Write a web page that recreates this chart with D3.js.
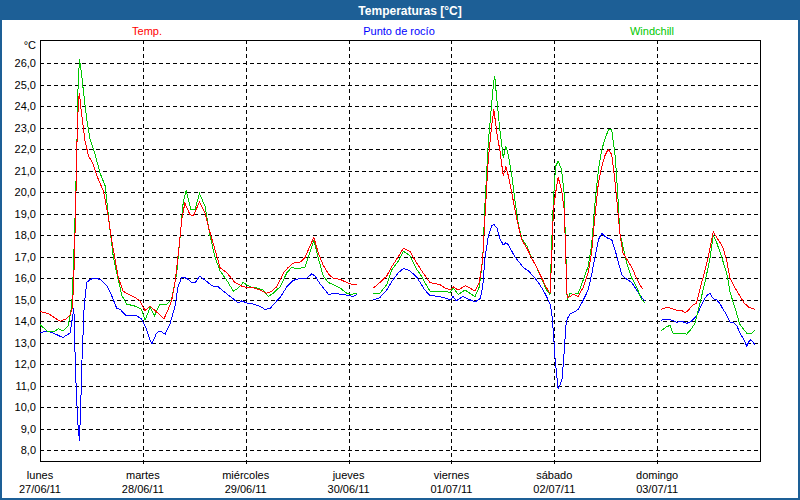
<!DOCTYPE html>
<html>
<head>
<meta charset="utf-8">
<script src="https://cdn.jsdelivr.net/npm/d3@7/dist/d3.min.js"></script>
<style>
  html, body { margin: 0; padding: 0; background: #fff; }
  svg { display: block; font-family: "Liberation Sans", Arial, sans-serif; }
</style>
</head>
<body>
<svg id="chart"></svg>
<script>
// hours since lunes 27/06/11 00:00, value in °C ; null = no data
const temp = [[0,14.45],[2,14.35],[3.5,14.15],[4.7,14.0],[6,14.1],[7,14.3],[7.5,14.6],[7.8,15.5],[8.1,17.5],[8.4,20.0],[8.7,23.0],[9.0,24.3],[9.2,24.6],[9.6,23.8],[10.5,22.4],[11.3,21.7],[12.4,21.3],[13.6,20.6],[14.8,20.05],[15.9,18.9],[16.7,17.8],[17.5,16.9],[18.3,16.0],[19.4,15.4],[20.6,15.25],[22.2,15.1],[23.3,14.95],[24.5,14.5],[25.7,14.7],[26.8,14.5],[28,14.3],[28.9,14.1],[29.9,14.55],[30.7,14.95],[31.5,15.8],[32.3,17.2],[33.1,18.75],[33.8,19.5],[35,18.95],[35.8,18.9],[37.2,19.55],[38.5,19.05],[39.7,18.1],[40.8,17.35],[42,16.5],[43.6,16.25],[45.5,15.8],[47.4,15.6],[49.8,15.55],[51.3,15.45],[52.9,15.3],[54.1,15.4],[55.2,15.6],[56.8,16.25],[57.9,16.5],[59.1,16.7],[60.7,16.75],[61.8,16.95],[63,17.5],[63.9,17.9],[64.9,17.2],[66.1,16.6],[67.3,16.2],[68.4,16.0],[70,15.95],[71.6,15.8],[73.1,15.7],[73.9,15.7],[75,null],[77.8,15.55],[79.3,15.8],[80.9,16.1],[82.1,16.55],[83.6,17.0],[84.8,17.4],[86.3,17.25],[87.9,16.7],[89.4,16.25],[91,15.8],[92.2,15.75],[93.3,15.7],[94.5,15.55],[95.7,15.45],[96.4,15.6],[97.6,15.45],[99.2,15.65],[100.3,15.55],[101.5,15.4],[102.5,15.8],[103.3,16.9],[103.8,18.75],[104.6,21.55],[105.4,23.1],[105.9,23.85],[106.6,22.75],[107.3,21.95],[108.1,20.75],[108.7,21.2],[109.3,20.75],[110.1,19.95],[110.8,19.2],[111.6,18.45],[112.4,17.8],[113.6,17.4],[114.7,16.95],[115.9,16.5],[117.1,16.0],[118.2,15.55],[119,15.3],[119.4,16.9],[119.8,19.2],[120.3,19.95],[120.9,20.7],[121.7,20.1],[122.3,19.2],[122.5,18.1],[122.7,16.9],[123,15.1],[123.7,15.15],[124.4,15.25],[125.6,15.15],[126.8,15.6],[127.9,16.25],[128.7,17.2],[129.5,18.9],[130.3,20.45],[131.1,21.2],[131.8,21.7],[132.6,22.0],[133.4,21.75],[134.2,20.45],[134.8,19.2],[135.3,18.1],[136,17.2],[136.9,16.9],[138.1,16.5],[139.2,16.0],[140.4,15.55],[140.7,15.5],[142,null],[144.9,14.55],[146.2,14.65],[147.4,14.6],[148.6,14.5],[149.7,14.5],[150.5,14.4],[151.3,14.5],[152,14.7],[153.2,14.85],[154,15.5],[154.8,16.1],[155.6,16.7],[156.3,17.35],[157.1,18.15],[157.9,17.9],[158.7,17.65],[159.4,17.4],[160.2,16.85],[161,16.0],[161.9,15.65],[163.1,15.25],[164.3,14.85],[165.4,14.65],[166.8,14.55]];

const dewPoint = [[0,13.45],[1.6,13.55],[3.1,13.45],[4.7,13.3],[5.4,13.25],[7,13.45],[7.6,14.2],[7.9,14.6],[8.3,11.6],[8.8,9.3],[9.2,8.45],[9.5,10.05],[9.8,12.2],[10.3,14.7],[10.9,15.8],[11.7,15.95],[12.8,16.0],[14,15.95],[15.6,15.65],[16.7,15.2],[17.9,14.6],[18.7,14.55],[20.2,14.25],[22.6,14.25],[23.7,14.1],[24.9,13.6],[25.7,13.1],[26.1,12.95],[27.2,13.45],[28,13.55],[29.2,13.4],[30.3,13.85],[31.5,14.7],[32.2,15.6],[33.1,16.05],[34.2,16.0],[35.4,15.8],[36.2,15.8],[37.3,16.1],[38.9,15.85],[40.1,15.65],[41.6,15.6],[42.8,15.4],[44.7,15.1],[46.3,14.85],[47.1,14.95],[48.2,14.85],[49.8,14.8],[51.3,14.7],[52.5,14.55],[53.7,14.6],[54.8,14.85],[56,15.1],[57.6,15.6],[59.1,15.9],[60.7,16.0],[62.2,16.0],[63.4,16.2],[64.2,16.1],[65.3,15.75],[66.5,15.45],[67.3,15.25],[68.8,15.3],[70.4,15.25],[71.9,15.2],[73.1,15.15],[73.9,15.25],[75,null],[77.8,15.0],[79.3,15.1],[80.9,15.45],[82.1,15.85],[83.6,16.25],[84.8,16.45],[86.3,16.35],[87.9,16.05],[88.7,15.8],[89.8,15.45],[91,15.2],[93.3,15.15],[95.7,15.0],[96.4,15.15],[97.1,14.95],[98.7,15.15],[100.3,15.0],[101.5,14.9],[102.7,15.05],[103.3,15.6],[103.8,16.9],[104.6,17.95],[105.4,18.45],[105.9,18.5],[106.6,18.35],[107.3,17.85],[108.1,17.55],[108.7,17.65],[109.3,17.55],[110.1,17.25],[110.8,17.0],[111.6,16.8],[112.8,16.5],[113.9,16.35],[115.1,16.1],[116.3,15.8],[117.4,15.45],[118.2,15.15],[119,14.8],[119.4,14.4],[119.8,13.45],[120.2,12.2],[120.6,11.45],[120.9,10.85],[121.3,11.0],[121.8,11.3],[122.3,12.55],[122.7,13.8],[123,14.1],[123.7,14.35],[124.4,14.4],[125.6,14.55],[126.8,15.0],[127.9,15.45],[128.7,16.15],[129.5,17.0],[130.3,17.8],[131.1,18.1],[131.8,17.95],[132.6,17.85],[133.4,17.8],[134.2,17.3],[135,16.7],[135.8,16.15],[136.9,15.95],[138.1,15.8],[139.2,15.45],[140.4,15.1],[141.2,14.95],[142,null],[144.9,14.05],[146.2,14.1],[147.4,14.05],[148.6,13.95],[149.7,14.0],[150.9,13.9],[152,14.0],[153.2,14.25],[154,14.6],[154.8,14.95],[155.6,15.2],[156.3,15.3],[157.1,15.05],[157.9,15.0],[158.7,14.8],[159.4,14.55],[160.2,14.3],[161,13.95],[161.8,13.95],[162.6,13.8],[163.3,13.45],[164.1,13.2],[164.9,12.85],[165.7,13.15],[166.5,13.0],[166.8,12.9]];

const windchill = [[0,13.85],[1.6,13.55],[3.1,13.5],[4.3,13.65],[5.4,13.55],[6.6,13.8],[7.4,14.7],[7.8,16.5],[8.2,19.0],[8.6,22.0],[8.8,24.5],[9.2,26.2],[9.7,25.5],[10.1,24.75],[10.9,23.4],[11.7,22.45],[12.8,21.8],[14,20.9],[15.2,20.3],[16.3,18.3],[17.1,17.0],[17.9,16.25],[19.1,15.2],[20.2,14.8],[22.2,14.7],[23.7,14.55],[24.5,14.05],[25.7,14.65],[26.7,14.25],[28,14.8],[29.6,14.8],[30.7,15.0],[31.9,16.25],[32.7,17.95],[33.4,19.5],[34.1,20.1],[35.2,19.2],[36.2,19.2],[37.2,19.95],[38.5,19.35],[39.7,17.95],[40.8,17.0],[42,16.35],[43.6,15.9],[45.1,15.4],[46.3,15.55],[47.4,15.8],[49,15.6],[50.5,15.55],[52.1,15.45],[53.3,15.15],[54.4,15.3],[56,15.6],[57.6,16.25],[58.7,16.5],[59.9,16.45],[61.8,16.5],[63,17.2],[63.9,17.75],[64.9,16.95],[66.1,16.1],[67.3,15.8],[68.4,15.7],[70,15.55],[71.6,15.3],[72.7,15.25],[73.9,15.3],[75,null],[77.8,15.3],[79.3,15.3],[80.9,15.7],[82.1,16.4],[83.6,16.8],[84.8,17.25],[86.3,17.05],[87.9,16.4],[88.7,16.2],[89.8,15.8],[91,15.4],[93.3,15.4],[95.7,15.35],[96.4,15.55],[97.6,15.25],[99.2,15.45],[100.3,15.3],[101.5,15.15],[102.5,15.6],[103.3,16.9],[103.8,19.35],[104.6,22.3],[105.4,24.15],[105.9,25.2],[106.1,25.4],[106.6,24.3],[107.3,22.9],[108.1,21.6],[108.7,22.15],[109.3,21.7],[110.1,20.75],[110.8,19.65],[111.6,18.55],[112.4,17.85],[113.6,17.5],[114.7,16.95],[115.9,16.5],[117.1,15.95],[118.2,15.45],[119,15.25],[119.4,17.65],[119.8,19.65],[120.3,21.2],[120.9,21.45],[121.7,21.05],[122.3,19.95],[122.5,18.4],[122.7,17.2],[123,15.0],[123.7,15.3],[124.4,15.25],[125.6,15.3],[126.8,15.95],[127.9,16.55],[128.7,17.5],[129.5,19.5],[130.3,21.05],[131.1,22.0],[131.8,22.45],[132.6,22.9],[133.4,22.9],[134.2,21.7],[134.8,19.95],[135.3,18.1],[136,17.5],[136.9,16.7],[138.1,16.0],[139.2,15.6],[140.4,15.0],[141.2,14.85],[142,null],[144.9,13.55],[146.2,13.75],[147,13.8],[147.7,13.45],[148.9,13.45],[150.9,13.4],[152,13.65],[152.8,13.9],[154,14.85],[155.2,15.85],[156.3,16.9],[157.1,18.0],[157.9,17.65],[158.7,17.2],[159.8,16.5],[160.4,16.1],[161,15.35],[162.2,14.6],[163.3,13.85],[164.9,13.45],[166.1,13.45],[166.8,13.6]];

const dayNames = ["lunes", "martes", "miércoles", "jueves", "viernes", "sábado", "domingo"];
const dayDates = ["27/06/11", "28/06/11", "29/06/11", "30/06/11", "01/07/11", "02/07/11", "03/07/11"];
const yTicks = [8, 9, 10, 11, 12, 13, 14, 15, 16, 17, 18, 19, 20, 21, 22, 23, 24, 25, 26];
const seriesNames = ["Temp.", "Punto de rocío", "Windchill"];

class TempChart {

  constructor(options={}){
    this.width = options.width || 800;
    this.height = options.height || 500;
    this.id = options.id || "#chart";
    this.left = 40; this.right = 760; this.top = 40; this.bottom = 461;
    this.colors = { temp: "#ff0000", dew: "#0000ff", chill: "#00c800" };
    this.fmt = d3.formatLocale({decimal: ",", thousands: ".", grouping: [3], currency: ["", ""]}).format(".1f");
  }

  create(){
    this.svg = d3.select(this.id).attr('width', this.width).attr('height', this.height);
    this.x = d3.scaleLinear().domain([0, 168]).range([this.left, this.right]);
    this.y = d3.scaleLinear().domain([7.5, 27.08]).range([this.bottom, this.top]);
    this.drawFrame();
    this.drawGrid();
    this.drawLines();
    this.drawLabels();
  }

  drawFrame(){
    this.svg.append('rect').attr('width', this.width).attr('height', this.height).attr('fill', '#fff');
    this.svg.append('rect').attr('x', 0).attr('y', 0).attr('width', this.width).attr('height', 20)
      .attr('fill', '#1d5f96');
    this.svg.append('rect').attr('x', 1).attr('y', 1).attr('width', this.width - 2).attr('height', this.height - 2)
      .attr('fill', 'none').attr('stroke', '#1d5f96').attr('stroke-width', 2);
    this.svg.append('text').attr('x', 410).attr('y', 14.5).attr('text-anchor', 'middle')
      .attr('fill', '#fff').attr('font-weight', 'bold').attr('font-size', 12)
      .text('Temperaturas [°C]');
  }

  drawGrid(){
    const g = this.svg.append('g').attr('shape-rendering', 'crispEdges');
    g.selectAll('.hgrid').data(yTicks).enter().append('line')
      .attr('x1', this.left).attr('x2', this.right)
      .attr('y1', d => Math.round(this.y(d)) + 0.5).attr('y2', d => Math.round(this.y(d)) + 0.5)
      .attr('stroke', '#000').attr('stroke-dasharray', '4,3');
    g.selectAll('.vgrid').data(dayNames.slice(1)).enter().append('line')
      .attr('x1', (d, i) => Math.round(this.x((i + 1) * 24)) + 0.5)
      .attr('x2', (d, i) => Math.round(this.x((i + 1) * 24)) + 0.5)
      .attr('y1', this.top).attr('y2', this.bottom + 4)
      .attr('stroke', '#000').attr('stroke-dasharray', '4,3');
    g.append('rect').attr('x', this.left + 0.5).attr('y', this.top + 0.5)
      .attr('width', this.right - this.left).attr('height', this.bottom - this.top)
      .attr('fill', 'none').attr('stroke', '#000');
  }

  drawLines(){
    const line = d3.line()
      .defined(d => d[1] !== null)
      .x(d => this.x(d[0]))
      .y(d => this.y(d[1]));
    const series = [
      { data: dewPoint, color: this.colors.dew },
      { data: windchill, color: this.colors.chill },
      { data: temp, color: this.colors.temp }
    ];
    this.svg.append('g').selectAll('path').data(series).enter().append('path')
      .attr('d', d => line(d.data))
      .attr('fill', 'none')
      .attr('stroke', d => d.color)
      .attr('stroke-width', 1)
      .attr('shape-rendering', 'crispEdges');
  }

  drawLabels(){
    const self = this;
    this.svg.append('g').selectAll('text').data(yTicks).enter().append('text')
      .attr('x', 36).attr('y', d => self.y(d) + 4)
      .attr('text-anchor', 'end').attr('font-size', 11).attr('fill', '#000')
      .text(d => self.fmt(d));
    this.svg.append('text').attr('x', 36).attr('y', 49).attr('text-anchor', 'end')
      .attr('font-size', 11).attr('fill', '#000').text('°C');

    const days = this.svg.append('g');
    days.selectAll('.dn').data(dayNames).enter().append('text')
      .attr('x', (d, i) => self.x(i * 24)).attr('y', 479)
      .attr('text-anchor', 'middle').attr('font-size', 11).attr('fill', '#000')
      .text(d => d);
    days.selectAll('.dd').data(dayDates).enter().append('text')
      .attr('x', (d, i) => self.x(i * 24)).attr('y', 493)
      .attr('text-anchor', 'middle').attr('font-size', 11).attr('fill', '#000')
      .text(d => d);

    const legendX = [147, 399, 652];
    const legendColors = [this.colors.temp, this.colors.dew, this.colors.chill];
    this.svg.append('g').selectAll('text').data(seriesNames).enter().append('text')
      .attr('x', (d, i) => legendX[i]).attr('y', 35)
      .attr('text-anchor', 'middle').attr('font-size', 11)
      .attr('fill', (d, i) => legendColors[i])
      .text(d => d);
  }
}

new TempChart({ id: "#chart", width: 800, height: 500 }).create();
</script>
</body>
</html>
